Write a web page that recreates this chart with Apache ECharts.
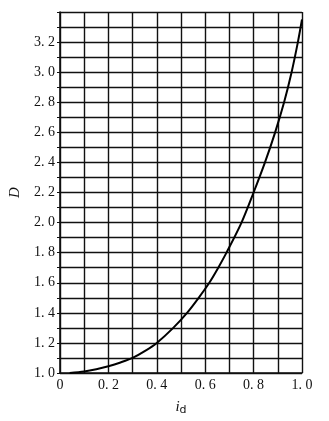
<!DOCTYPE html>
<html><head><meta charset="utf-8">
<script src="https://cdn.jsdelivr.net/npm/echarts@6/dist/echarts.min.js"></script>
<style>html,body{margin:0;padding:0;background:#fff}#c{width:329px;height:421px}</style>
</head><body><div id="c"></div>
<script>
const idValues = [0.04,0.1,0.15,0.2,0.25,0.3,0.35,0.4,0.468,0.525,0.573,0.617,0.654,0.688,0.75,0.8,0.847,0.889,0.926,0.957,0.983,1.0];
const dValues  = [1.0,1.01,1.025,1.045,1.07,1.1,1.145,1.2,1.3,1.4,1.5,1.6,1.7,1.8,2.0,2.2,2.4,2.6,2.8,3.0,3.2,3.35];
const xTickLabels = ['0','0. 2','0. 4','0. 6','0. 8','1. 0'];
const yTickLabels = ['1. 0','1. 2','1. 4','1. 6','1. 8','2. 0','2. 2','2. 4','2. 6','2. 8','3. 0','3. 2'];

const serif = '"Liberation Serif","DejaVu Serif",serif';
const chart = echarts.init(document.getElementById('c'));
const lineStyle = {color:'#111', width:1.4};
chart.setOption({
  animation:false,
  grid:{left:56, right:27, top:12, bottom:42},
  xAxis:{
    type:'value', min:0, max:1, interval:0.1,
    axisLine:{show:true, lineStyle:{color:'#111', width:1.6}},
    axisTick:{show:false},
    splitLine:{show:true, lineStyle:lineStyle},
    axisLabel:{fontFamily:serif, fontSize:14, color:'#111', margin:5,
      formatter:v=>{const k=Math.round(v*10); return k%2===0 ? xTickLabels[k/2] : '';}},
    name:'{i|i}{d|d}', nameLocation:'middle', nameGap:26,
    nameTextStyle:{rich:{i:{fontFamily:serif, fontStyle:'italic', fontSize:15, color:'#111'},
      d:{fontFamily:'"DejaVu Sans",sans-serif', fontSize:11, color:'#111', verticalAlign:'bottom', padding:[6,0,0,0]}}}
  },
  yAxis:{
    type:'value', min:1.0, max:3.4, interval:0.1,
    axisLine:{show:true, lineStyle:{color:'#111', width:1.6}},
    axisTick:{show:true, length:3, lineStyle:{color:'#111'}},
    splitLine:{show:true, lineStyle:lineStyle},
    axisLabel:{fontFamily:serif, fontSize:14, color:'#111', margin:5,
      formatter:v=>{const k=Math.round(v*10)-10; return (k%2===0 && k/2<yTickLabels.length) ? yTickLabels[k/2] : '';}},
    name:'D', nameLocation:'middle', nameGap:37, nameRotate:90,
    nameTextStyle:{fontFamily:serif, fontStyle:'italic', fontSize:15, color:'#111'}
  },
  series:[{
    type:'line', smooth:0.3, showSymbol:false,
    data: idValues.map((x,i)=>[x,dValues[i]]),
    lineStyle:{color:'#000', width:2}
  }]
});
</script></body></html>
